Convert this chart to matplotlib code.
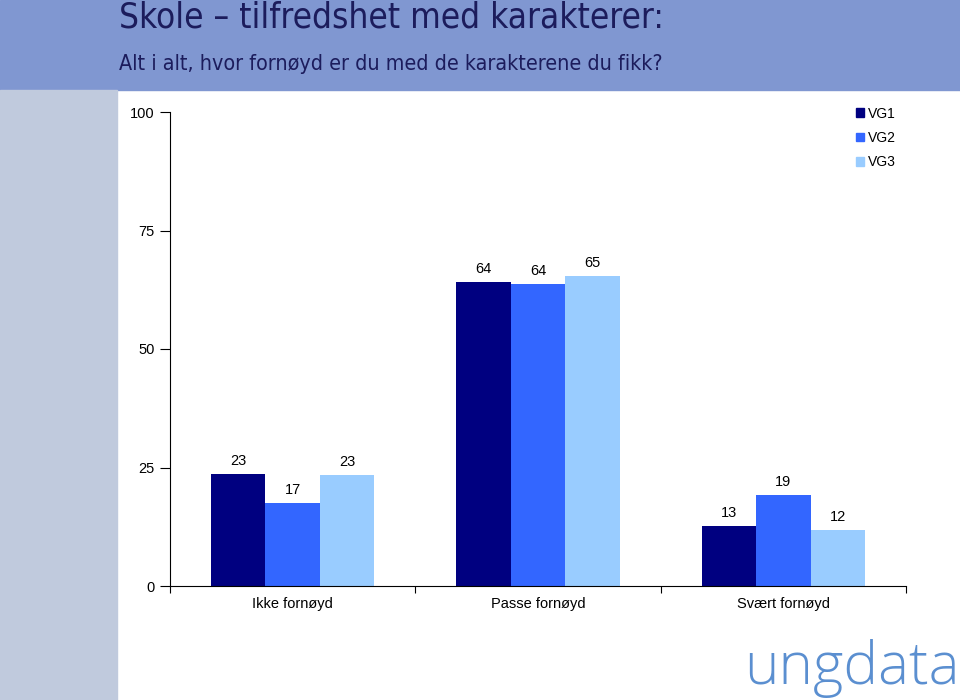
import matplotlib.pyplot as plt
import numpy as np
from matplotlib.patches import Rectangle, Patch

# Data
categories = ['Ikke fornøyd', 'Passe fornøyd', 'Svært fornøyd']
series = ['VG1', 'VG2', 'VG3']
vg1 = [23.6, 64.1, 12.7]
vg2 = [17.5, 63.7, 19.2]
vg3 = [23.4, 65.4, 11.8]
labels_vg1 = ['23', '64', '13']
labels_vg2 = ['17', '64', '19']
labels_vg3 = ['23', '65', '12']
yticks = [0, 25, 50, 75, 100]

colors = ['#000080', '#3366ff', '#99ccff']

plt.rcParams['font.family'] = ['Liberation Sans', 'DejaVu Sans']

fig = plt.figure(figsize=(9.6, 7.0), dpi=100)

# background: header band and left strip
fig.patches.append(Rectangle((0, 1 - 90 / 700.), 1, 90 / 700., transform=fig.transFigure,
                             color='#8097d1', zorder=0))
fig.patches.append(Rectangle((0, 0), 117 / 960., 1 - 90 / 700., transform=fig.transFigure,
                             color='#c0cadd', zorder=0))

fig.text(119 / 960., 1 - 18 / 700., 'Skole – tilfredshet med karakterer:', fontsize=25.2,
         color='#1c1c5c', va='center', ha='left', family='DejaVu Sans', fontstretch='condensed')
fig.text(119 / 960., 1 - 64 / 700., 'Alt i alt, hvor fornøyd er du med de karakterene du fikk?',
         fontsize=15.4, color='#1c1c5c', va='center', ha='left',
         family='DejaVu Sans', fontstretch='condensed')

ax = fig.add_axes([170 / 960., 1 - 586 / 700., (906 - 170) / 960., (586 - 112) / 700.])

x = np.arange(len(categories))
w = 0.222
for i, (vals, labs) in enumerate(zip([vg1, vg2, vg3], [labels_vg1, labels_vg2, labels_vg3])):
    pos = x + (i - 1) * w
    ax.bar(pos, vals, width=w, color=colors[i], label=series[i], zorder=2)
    for p, v, l in zip(pos, vals, labs):
        ax.text(p, v + 1.2, l, ha='center', va='bottom', fontsize=10.5, color='black')

ax.set_xlim(-0.5, 2.5)
ax.set_ylim(0, 100)
ax.set_yticks(yticks)
ax.set_yticklabels([str(t) for t in yticks], fontsize=10.5)
ax.set_xticks([-0.5, 0.5, 1.5, 2.5])
ax.set_xticklabels([])
ax.set_xticks(x, minor=True)
ax.set_xticklabels(categories, minor=True, fontsize=10.5)
ax.tick_params(axis='x', which='minor', length=0, pad=8)
ax.tick_params(axis='x', which='major', length=5, direction='out')
ax.tick_params(axis='y', length=7, direction='out', pad=4)
for s in ['top', 'right']:
    ax.spines[s].set_visible(False)
ax.spines['left'].set_color('black')
ax.spines['bottom'].set_color('black')

handles = [Patch(color=c) for c in colors]
fig.legend(handles, series, loc='upper left', bbox_to_anchor=(843 / 960., 1 - 94 / 700.),
           frameon=False, fontsize=10, handlelength=0.6, handleheight=0.6,
           handletextpad=0.3, labelspacing=0.75)

# logo text
fig.text(1.0, 1 - 668 / 700., 'ungdata', fontsize=42, color='#5b8fd0', ha='right', va='center',
         family=['Open Sans', 'DejaVu Sans'], fontweight='light')

fig.savefig('out.png', dpi=100)
